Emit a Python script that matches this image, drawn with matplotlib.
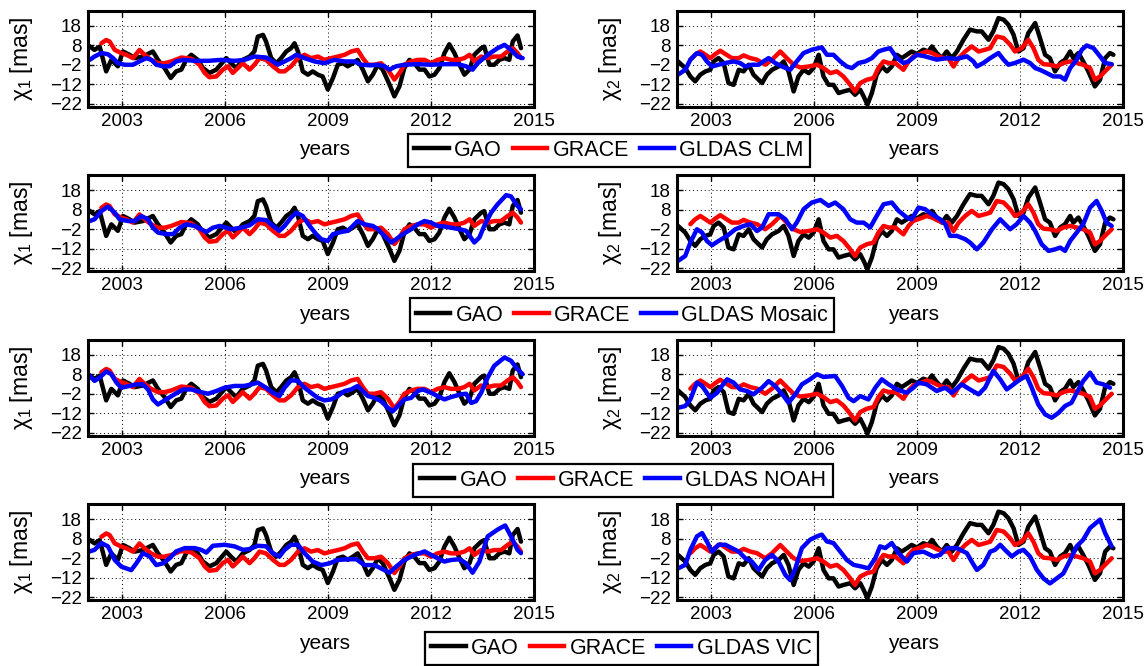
import matplotlib
matplotlib.use('Agg')
import matplotlib.pyplot as plt
from matplotlib.lines import Line2D

plt.rcParams['font.family'] = ['Liberation Sans', 'DejaVu Sans']
plt.rcParams['mathtext.fontset'] = 'custom'
plt.rcParams['mathtext.rm'] = 'Liberation Sans'
plt.rcParams['mathtext.it'] = 'Liberation Sans'
plt.rcParams['mathtext.bf'] = 'Liberation Sans:bold'

# ---------------- data ----------------
xticks = [2003, 2006, 2009, 2012, 2015]
yticks = [-22, -12, -2, 8, 18]
model_names = ['GLDAS CLM', 'GLDAS Mosaic', 'GLDAS NOAH', 'GLDAS VIC']

# chi1 GAO
t_gao1 = [2002.00, 2002.19, 2002.34, 2002.53, 2002.68, 2002.87, 2003.02, 2003.21, 2003.36, 2003.60,
          2003.89, 2004.04, 2004.23, 2004.41, 2004.57, 2004.72, 2004.86, 2005.01, 2005.20, 2005.35,
          2005.54, 2005.74, 2006.03, 2006.17, 2006.32, 2006.51, 2006.71, 2006.85, 2006.95, 2007.10,
          2007.19, 2007.34, 2007.49, 2007.63, 2007.78, 2007.92, 2008.02, 2008.12, 2008.26, 2008.41,
          2008.55, 2008.70, 2008.84, 2008.99, 2009.14, 2009.28, 2009.43, 2009.57, 2009.72, 2009.86,
          2010.01, 2010.16, 2010.30, 2010.45, 2010.59, 2010.79, 2010.93, 2011.08, 2011.22, 2011.37,
          2011.51, 2011.66, 2011.81, 2011.95, 2012.10, 2012.24, 2012.39, 2012.53, 2012.68, 2012.83,
          2012.97, 2013.12, 2013.26, 2013.46, 2013.55, 2013.70, 2013.84, 2013.99, 2014.14, 2014.28,
          2014.38, 2014.52, 2014.62]
gao1 = [8, 5.6, 7.3, -5.4, 0.5, -2.8, 4.8, 3.1, 1.4, 2.2,
        4.8, 0.5, -3.7, -8.8, -5.4, -4.5, 0.5, 3.1, 0.5, -3.7,
        -6.2, -4.5, 1.4, -1.2, -3.7, 0.5, 2.2, 4.8, 12.4, 13.3,
        9.9, 1.4, -1.2, 1.4, 4.8, 6.5, 9.0, 4.8, -5.4, -7.1,
        -5.4, -7.1, -8, -14.7, -8.8, -2, -1.2, -2.8, -1.2, 0.5,
        -4.5, -10.5, -7.1, -2, -4.5, -12.2, -18.2, -13, -3.7, 0.5,
        -1.2, -4.5, -4.5, -8, -7.1, -3.7, 4, 8.5, 4, -2,
        -7.1, -4.5, 3.1, 6.5, 7.3, -2, -2, 0.5, 1.4, 0.5,
        9.9, 13, 6.5]

# chi1 GRACE
t_grace1 = [2002.39, 2002.53, 2002.63, 2002.78, 2002.97, 2003.12, 2003.31, 2003.50, 2003.65, 2003.84,
            2004.04, 2004.23, 2004.43, 2004.72, 2005.01, 2005.25, 2005.40, 2005.54, 2005.74, 2005.93,
            2006.08, 2006.22, 2006.37, 2006.51, 2006.71, 2006.85, 2007.00, 2007.19, 2007.39, 2007.58,
            2007.73, 2007.92, 2008.12, 2008.31, 2008.50, 2008.70, 2008.89, 2009.09, 2009.28, 2009.48,
            2009.67, 2009.86, 2010.01, 2010.16, 2010.35, 2010.54, 2010.74, 2010.93, 2011.08, 2011.22,
            2011.42, 2011.61, 2011.81, 2012.00, 2012.19, 2012.39, 2012.58, 2012.78, 2012.97, 2013.12,
            2013.26, 2013.46, 2013.65, 2013.84, 2014.04, 2014.23, 2014.38, 2014.52, 2014.62]
grace1 = [9.0, 10.7, 9.9, 5.6, 4, 3.1, 1.4, 5.6, 3.1, 0.5,
          -1.2, -1.2, -0.3, 1.7, 1.1, -2, -6.2, -8.4, -8, -4.5,
          -2.8, -6.2, -3.7, -1.2, -4.5, -2, 1.4, 0.5, -2.8, -5.4,
          -5.4, -2.8, 1.4, 3.1, 1.4, 2.2, 0.5, 1.4, 2.2, 3.1,
          4.8, 5.6, 1.4, -2, -2, -1.2, -4.5, -9.6, -6.2, -2,
          -0.3, 0.5, 0.5, -1.2, 0.5, 1.4, 0.5, 0.5, 1.4, 3.1,
          -0.3, 2.2, 1.4, 2.2, 2.2, 4.8, 6.5, 4, 1.4]

# chi1 GLDAS CLM
t_clm1 = [2002.05, 2002.19, 2002.39, 2002.58, 2002.73, 2002.87, 2003.07, 2003.31, 2003.50, 2003.70,
          2003.85, 2003.99, 2004.19, 2004.38, 2004.57, 2004.77, 2005.11, 2005.50, 2005.88, 2006.27,
          2006.56, 2006.85, 2007.19, 2007.39, 2007.53, 2007.73, 2007.92, 2008.07, 2008.31, 2008.60,
          2008.89, 2009.18, 2009.48, 2009.77, 2009.96, 2010.25, 2010.45, 2010.64, 2010.79, 2010.98,
          2011.22, 2011.61, 2012.00, 2012.39, 2012.78, 2013.02, 2013.21, 2013.36, 2013.65, 2013.94,
          2014.14, 2014.33, 2014.52, 2014.67]
clm1 = [0.5, 2.2, 4, 3.4, 1.4, -1.2, -2, -2, -0.3, 1.4,
        0.5, -2, -2.8, -2.8, -0.3, 0.5, 0, 0, 0.5, 0,
        0.5, 2.2, 1.7, -0.3, -2, -0.3, 1.4, 3.1, 1.4, -0.3,
        -1.2, 0.5, -0.3, -0.3, -2, -2.3, -2, -2.8, -4.5, -2.8,
        -2, -1.7, -2, -1.7, -1.7, -2.8, -4.5, -1.2, 3.1, 6.5,
        8.2, 5.6, 2.2, 1.4]

# chi1 GLDAS Mosaic
t_mos1 = [2002.05, 2002.19, 2002.39, 2002.58, 2002.78, 2002.92, 2003.17, 2003.36, 2003.55, 2003.75,
          2003.89, 2004.04, 2004.28, 2004.48, 2004.67, 2004.86, 2005.11, 2005.30, 2005.45, 2005.64,
          2005.84, 2006.18, 2006.47, 2006.71, 2006.95, 2007.19, 2007.39, 2007.58, 2007.73, 2007.92,
          2008.07, 2008.26, 2008.46, 2008.65, 2008.80, 2008.99, 2009.14, 2009.38, 2009.57, 2009.72,
          2009.86, 2010.06, 2010.30, 2010.45, 2010.64, 2010.84, 2010.98, 2011.18, 2011.42, 2011.61,
          2011.81, 2012.00, 2012.19, 2012.39, 2012.58, 2012.83, 2013.02, 2013.26, 2013.41, 2013.55,
          2013.75, 2013.94, 2014.19, 2014.33, 2014.52, 2014.62]
mos1 = [2.2, 3.1, 7.3, 9.6, 6.5, 3.1, 2.2, 2.2, 4.8, 3.1,
        -1.2, -3.7, -4.5, -4.5, -1.2, 0.5, -0.3, -2, -3.4, -1.2,
        -0.3, -2, -1.2, 0, 3.1, 2.7, -0.3, -2.8, -0.3, 4,
        6.5, 4.8, -0.3, -4.5, -7.1, -8, -4.5, -3.4, -2.8, -0.3,
        2.2, 0.5, -0.3, -2, -5.4, -8.8, -7.1, -4.5, -2, 0.5,
        2.2, 1.4, -0.3, -0.6, -1.2, -2, -2.8, -8.8, -6.2, -0.3,
        6.5, 10.8, 15.5, 14.8, 9.9, 8.2]

# chi1 GLDAS NOAH
t_noah1 = [2002.05, 2002.19, 2002.34, 2002.53, 2002.68, 2002.83, 2002.97, 2003.21, 2003.41, 2003.60,
           2003.75, 2003.89, 2004.04, 2004.28, 2004.52, 2004.77, 2005.01, 2005.25, 2005.50, 2005.74,
           2005.98, 2006.27, 2006.56, 2006.76, 2006.95, 2007.19, 2007.39, 2007.58, 2007.73, 2007.92,
           2008.12, 2008.31, 2008.50, 2008.70, 2008.89, 2009.09, 2009.28, 2009.48, 2009.67, 2009.86,
           2010.01, 2010.16, 2010.35, 2010.54, 2010.74, 2010.88, 2011.08, 2011.22, 2011.42, 2011.61,
           2011.76, 2012.00, 2012.19, 2012.39, 2012.58, 2012.87, 2013.02, 2013.17, 2013.31, 2013.46,
           2013.65, 2013.84, 2014.14, 2014.33, 2014.52, 2014.67]
noah1 = [7.1, 4.6, 6.3, 9.4, 8, 3.7, 1.1, 2, 2.8, 2.8,
         0.2, -4.9, -7.5, -4.9, -2.3, 0.2, 0.2, -1, -2, -0.6,
         1.1, 2, 2, 2.8, 3.7, 1.1, -1.5, -3.2, 1.1, 4.9,
         4.6, 1.1, -1.5, -4.1, -5.4, -4.9, -3.2, -0.6, 0.2, 2,
         -0.6, -3.2, -4.1, -5.8, -9.2, -11, -7.5, -4.9, -4.1, -0.6,
         0.2, -1.5, -3.2, -4.9, -3.7, -2.3, -2, -6.7, -5.8, -1.5,
         6.3, 12.3, 16.6, 14.9, 10.6, 8]

# chi1 GLDAS VIC
t_vic1 = [2002.05, 2002.19, 2002.39, 2002.58, 2002.78, 2002.97, 2003.26, 2003.41, 2003.60, 2003.80,
          2003.99, 2004.19, 2004.38, 2004.57, 2004.82, 2005.11, 2005.30, 2005.45, 2005.64, 2005.98,
          2006.27, 2006.52, 2006.71, 2006.95, 2007.19, 2007.39, 2007.58, 2007.73, 2007.92, 2008.12,
          2008.31, 2008.55, 2008.80, 2009.04, 2009.28, 2009.57, 2009.82, 2010.06, 2010.35, 2010.54,
          2010.79, 2010.98, 2011.22, 2011.52, 2011.81, 2012.00, 2012.19, 2012.39, 2012.58, 2012.83,
          2013.02, 2013.21, 2013.41, 2013.65, 2013.94, 2014.16, 2014.33, 2014.52, 2014.62]
vic1 = [1.5, 2.3, 5.8, 4.1, -2.9, -6.3, -8.1, -4.6, 0.6, -1.1,
        -5.5, -4.6, -2, 1.5, 3.2, 3.2, 2.3, 0.9, 4.4, 4.9,
        4.1, 2.3, 2.7, 4.4, 4.1, 0.6, -1.1, 2.3, 4.9, 4.9,
        0.6, -3.7, -5.5, -4.6, -2.9, -2.5, -2.5, -5.5, -5.5, -7.2,
        -9.4, -6.3, -2.9, -0.3, 1.5, -0.3, -2, -3.7, -2.9, -2.5,
        -4.6, -9.4, -3.7, 9.2, 12.7, 14.8, 9.2, 2.3, 0.6]

# chi2 GAO
t_gao2 = [2002.03, 2002.24, 2002.39, 2002.53, 2002.68, 2002.83, 2002.97, 2003.07, 2003.21, 2003.36,
          2003.50, 2003.65, 2003.80, 2003.94, 2004.09, 2004.23, 2004.48, 2004.62, 2004.77, 2004.96,
          2005.11, 2005.25, 2005.40, 2005.54, 2005.69, 2005.84, 2005.98, 2006.13, 2006.27, 2006.42,
          2006.56, 2006.71, 2006.85, 2007.05, 2007.19, 2007.34, 2007.44, 2007.55, 2007.68, 2007.82,
          2007.97, 2008.12, 2008.26, 2008.41, 2008.55, 2008.70, 2008.84, 2008.99, 2009.18, 2009.33,
          2009.43, 2009.57, 2009.72, 2009.86, 2010.01, 2010.16, 2010.35, 2010.54, 2010.74, 2010.88,
          2011.08, 2011.22, 2011.37, 2011.52, 2011.66, 2011.81, 2011.95, 2012.10, 2012.24, 2012.44,
          2012.58, 2012.73, 2012.87, 2013.02, 2013.17, 2013.31, 2013.46, 2013.55, 2013.70, 2013.84,
          2013.99, 2014.18, 2014.33, 2014.48, 2014.62, 2014.72]
gao2 = [-0.3, -3.7, -8, -10.5, -7.1, -5.4, -4.6, -0.3, 1.4, -1.1,
        -11.4, -12.3, -4.6, -5.4, -2, -7.1, -11.4, -7.1, -4.6, -2.9,
        -0.3, -5.4, -15.7, -8, -4.6, -6.3, -3.7, 3.1, -8, -12.3,
        -12.3, -16.5, -15.7, -14.8, -17.4, -14.8, -18.2, -22.5, -16.5, -7.1,
        -2.9, -5.4, -2.9, 3.1, 1.4, 3.1, 4.8, 3.5, 5.7, 4.8,
        7.4, 4, 1.4, 4.8, 1.4, 4.8, 10.8, 16, 15.1, 15.1,
        10.8, 15.1, 21.9, 21.1, 18.5, 13.4, 4.8, 6.5, 14.2, 19.4,
        11.7, 3.1, 1.4, -5.4, -1.1, 0.6, 4.8, 1.4, 4, -0.3,
        -5.4, -13.1, -9.7, 1.4, 4, 3.1]

# chi2 GRACE
t_grace2 = [2002.39, 2002.53, 2002.68, 2002.83, 2002.97, 2003.12, 2003.26, 2003.41, 2003.60, 2003.80,
            2003.94, 2004.14, 2004.33, 2004.57, 2004.77, 2005.01, 2005.20, 2005.40, 2005.59, 2005.84,
            2006.08, 2006.27, 2006.47, 2006.66, 2006.85, 2007.05, 2007.19, 2007.34, 2007.53, 2007.73,
            2007.87, 2008.02, 2008.17, 2008.36, 2008.60, 2008.75, 2008.89, 2009.09, 2009.28, 2009.43,
            2009.62, 2009.77, 2009.91, 2010.06, 2010.21, 2010.40, 2010.59, 2010.79, 2010.98, 2011.13,
            2011.32, 2011.52, 2011.71, 2011.85, 2012.05, 2012.24, 2012.39, 2012.53, 2012.68, 2012.87,
            2013.07, 2013.26, 2013.46, 2013.65, 2013.84, 2014.04, 2014.18, 2014.33, 2014.52, 2014.67]
grace2 = [0.6, 3.1, 4.8, 3.1, 1.4, 3.5, 5.2, 3.5, 1.4, 1.4,
          2.8, 1.4, 0.6, -2, 0.6, 4.8, 1.4, -2, -3.4, -2.9,
          -2, -3.7, -6.3, -5.4, -8, -12.3, -15.7, -11.4, -9.7, -8.8,
          -3.7, -0.3, -1.1, -1.1, -4.6, -0.3, 2.3, 3.5, 4.8, 4,
          2.3, 1.4, 1.4, -2.9, 1.4, 4.8, 7.4, 4.8, 5.7, 6.5,
          12.5, 11.7, 8.3, 4.8, 6.5, 10.8, 6.5, 0.6, -1.7, -2,
          -2.9, -1.1, -0.3, -1.1, -2, -3.7, -9.7, -8, -4.6, -2]

# chi2 GLDAS CLM
t_clm2 = [2002.03, 2002.24, 2002.39, 2002.58, 2002.73, 2002.87, 2003.02, 2003.21, 2003.41, 2003.65,
          2003.84, 2003.99, 2004.18, 2004.38, 2004.52, 2004.67, 2004.86, 2005.06, 2005.30, 2005.49,
          2005.69, 2005.93, 2006.22, 2006.37, 2006.56, 2006.76, 2006.95, 2007.10, 2007.29, 2007.49,
          2007.68, 2007.87, 2008.02, 2008.21, 2008.41, 2008.60, 2008.75, 2008.99, 2009.23, 2009.57,
          2009.86, 2010.16, 2010.45, 2010.64, 2010.74, 2010.93, 2011.13, 2011.37, 2011.52, 2011.66,
          2011.85, 2012.10, 2012.29, 2012.44, 2012.58, 2012.78, 2012.97, 2013.17, 2013.31, 2013.46,
          2013.65, 2013.80, 2013.94, 2014.14, 2014.33, 2014.48, 2014.67]
clm2 = [-7.1, -4.6, 0.6, 4, 3.1, -0.3, -2.9, -2, -1.1, -0.3,
        -1.1, -2.9, -2, -2, -0.3, 1.4, -1.1, -2.9, -4.6, -0.3,
        4, 5.7, 6.9, 3.1, 3.1, -0.3, -2.9, -3.7, -1.1, -0.3,
        1.4, 4.8, 5.7, 6.5, 1.4, -1.1, -0.3, 3.1, 2.3, 0.6,
        1.4, 1, 2.3, -0.3, -2.9, -1.1, 1.4, 4, 0.6, -2,
        -1.1, 0.6, -1.1, -3.7, -4.6, -6.3, -8, -8, -9.7, -3.7,
        0.6, 5.7, 7.9, 6.5, 2.3, -1.1, -1.7]

# chi2 GLDAS Mosaic
t_mos2 = [2002.03, 2002.24, 2002.39, 2002.58, 2002.73, 2002.87, 2003.02, 2003.21, 2003.46, 2003.70,
          2003.94, 2004.14, 2004.33, 2004.48, 2004.67, 2004.96, 2005.16, 2005.35, 2005.49, 2005.69,
          2005.93, 2006.18, 2006.42, 2006.61, 2006.85, 2007.05, 2007.24, 2007.44, 2007.63, 2007.82,
          2008.02, 2008.26, 2008.46, 2008.70, 2008.84, 2009.04, 2009.23, 2009.43, 2009.67, 2009.82,
          2009.96, 2010.16, 2010.40, 2010.54, 2010.74, 2010.93, 2011.18, 2011.42, 2011.56, 2011.71,
          2011.90, 2012.10, 2012.29, 2012.44, 2012.63, 2012.83, 2013.02, 2013.17, 2013.31, 2013.46,
          2013.65, 2013.84, 2014.04, 2014.23, 2014.38, 2014.52, 2014.67]
mos2 = [-18.2, -15.7, -8.8, -2, -3.7, -8, -10.2, -8, -5.4, -2,
        -0.3, 0.6, -2.9, -1.1, 5.7, 5.7, 3.1, -2, 1.4, 8.3,
        11.7, 13, 10, 11.7, 8.3, 3.1, 1.4, 1.4, -1.1, 4.8,
        10.8, 11.7, 7.4, 4, 3.1, 9.1, 8.3, 5.7, 3.1, 0.6,
        -5.4, -5.4, -7.1, -8.8, -12.3, -8.8, -2, 3.1, 0.6, -2,
        0.6, 4.8, 1.4, -2.9, -9.7, -13.1, -12.3, -11.4, -13.1, -8,
        -3.7, 0.6, 9.1, 12.5, 7.4, 1.4, -0.3]

# chi2 GLDAS NOAH
t_noah2 = [2002.03, 2002.24, 2002.39, 2002.58, 2002.73, 2002.97, 2003.17, 2003.31, 2003.46, 2003.65,
           2003.84, 2004.04, 2004.23, 2004.48, 2004.67, 2004.86, 2005.11, 2005.25, 2005.45, 2005.64,
           2005.88, 2006.08, 2006.27, 2006.61, 2006.81, 2007.00, 2007.15, 2007.34, 2007.58, 2007.78,
           2007.97, 2008.17, 2008.41, 2008.70, 2008.89, 2009.04, 2009.28, 2009.57, 2009.82, 2010.01,
           2010.30, 2010.54, 2010.79, 2010.98, 2011.22, 2011.42, 2011.61, 2011.81, 2012.00, 2012.19,
           2012.34, 2012.53, 2012.73, 2012.92, 2013.12, 2013.31, 2013.50, 2013.65, 2013.84, 2014.04,
           2014.23, 2014.43, 2014.62]
noah2 = [-9.2, -8.3, -4.9, 3.7, 2, -4.1, -1.5, 2, 5.4, 3.7,
         0.2, -0.6, -2.3, 1.1, 4.5, 2, -3.2, -6.6, -2.3, 2.8,
         5.4, 8, 6.6, 7.1, 2, -4.1, -5.8, -3.2, -4.9, 1.1,
         5.4, 2.8, 0.2, -1.5, 1.1, 3.7, 2.8, -0.6, 1.1, -1.5,
         2.8, 0.2, -2.3, 1.1, 9.7, 5.4, 0.2, 2.8, 5.4, 7.1,
         1.1, -7.5, -12.6, -14.3, -11.8, -8.3, -6.6, -1.5, 4.5, 8.8,
         3.7, 2.8, 1.1]

# chi2 GLDAS VIC
t_vic2 = [2002.03, 2002.24, 2002.39, 2002.58, 2002.73, 2002.87, 2003.02, 2003.21, 2003.41, 2003.60,
          2003.80, 2003.99, 2004.18, 2004.38, 2004.57, 2004.77, 2004.96, 2005.16, 2005.30, 2005.45,
          2005.64, 2005.88, 2006.08, 2006.22, 2006.37, 2006.56, 2006.76, 2006.95, 2007.15, 2007.39,
          2007.58, 2007.78, 2007.92, 2008.07, 2008.26, 2008.46, 2008.70, 2008.89, 2009.18, 2009.48,
          2009.67, 2009.86, 2010.16, 2010.45, 2010.59, 2010.74, 2010.93, 2011.13, 2011.27, 2011.42,
          2011.56, 2011.76, 2011.95, 2012.10, 2012.29, 2012.49, 2012.68, 2012.87, 2013.07, 2013.26,
          2013.46, 2013.65, 2013.84, 2014.04, 2014.33, 2014.48, 2014.67]
vic2 = [-7.2, -5.4, 2.3, 9.2, 10.9, 6.6, 1.4, 4.9, 4.9, 3.2,
        1.4, -2, -3.7, -8, -2.9, -0.3, -3.7, -10.6, -13.2, -7.2,
        3.2, 7.5, 9.2, 10.1, 6.6, 5.8, 1.4, -2.9, -5.4, -6.3,
        -7.2, -2, 4.1, 3.2, 5.8, 0.6, -3.7, 0.6, 1.4, -1.1,
        -0.3, 3.2, 3.2, 0.6, -3.7, -8, -5.4, 1.4, 2.3, 4.9,
        2.3, -1.1, 1.4, 2.3, -1.1, -8, -12.3, -14.9, -12.3, -9.8,
        -2.9, 4.1, 7.5, 13.5, 17.8, 10.9, 4.1]

# ---------------- figure ----------------
W, H = 1145, 666
fig = plt.figure(figsize=(W / 100, H / 100), dpi=100)

C_GAO, C_GRACE, C_GLDAS = 'black', (1, 0, 0), (0, 0, 1)
LW = 3.2
LINE_KW = dict(lw=LW, solid_joinstyle='round', solid_capstyle='round')

models1 = [(t_clm1, clm1), (t_mos1, mos1), (t_noah1, noah1), (t_vic1, vic1)]
models2 = [(t_clm2, clm2), (t_mos2, mos2), (t_noah2, noah2), (t_vic2, vic2)]
legend_centers = [(609, 150.5), (622, 315), (623, 480.5), (621.5, 648.5)]


def rect(x0, top, w, h):
    return [x0 / W, 1 - (top + h) / H, w / W, h / H]


def style(ax, ylab):
    ax.set_xlim(2002, 2015)
    ax.set_ylim(-23.4, 25.8)
    ax.set_xticks(xticks)
    ax.set_yticks(yticks)
    ax.grid(True, color='black', linestyle=(0, (1, 3)), linewidth=0.7)
    ax.set_axisbelow(True)
    ax.tick_params(direction='in', length=4, width=1.0, top=True, right=True,
                   labelsize=13.5, pad=4.5)
    for s in ax.spines.values():
        s.set_linewidth(2.2)
    ax.set_xlabel('years', fontsize=15)
    ax.xaxis.set_label_coords(0.53, -0.45)
    ax.xaxis.label.set_va('center')
    ax.set_ylabel(ylab, fontsize=16.5)
    ax.yaxis.set_label_coords(-0.148, 0.5)
    ax.yaxis.label.set_va('center')


for i in range(4):
    top = 10.5 + 164.5 * i
    axl = fig.add_axes(rect(88, top, 446, 96))
    axr = fig.add_axes(rect(677, top, 446, 96))

    axl.plot(t_gao1, gao1, color=C_GAO, **LINE_KW)
    axl.plot(t_grace1, grace1, color=C_GRACE, **LINE_KW)
    axl.plot(models1[i][0], models1[i][1], color=C_GLDAS, **LINE_KW)
    style(axl, r'$\chi_1$ [mas]')

    axr.plot(t_gao2, gao2, color=C_GAO, **LINE_KW)
    axr.plot(t_grace2, grace2, color=C_GRACE, **LINE_KW)
    axr.plot(models2[i][0], models2[i][1], color=C_GLDAS, **LINE_KW)
    style(axr, r'$\chi_2$ [mas]')

    handles = [Line2D([], [], color=C_GAO, lw=LW),
               Line2D([], [], color=C_GRACE, lw=LW),
               Line2D([], [], color=C_GLDAS, lw=LW)]
    cx, cy = legend_centers[i]
    leg = fig.legend(handles, ['GAO', 'GRACE', model_names[i]], loc='center',
                     bbox_to_anchor=(cx / W, 1 - cy / H), ncol=3, fontsize=15.5,
                     frameon=True, fancybox=False, edgecolor='black', framealpha=1,
                     handlelength=1.6, handletextpad=0.25, columnspacing=0.5,
                     borderpad=0.3, borderaxespad=0)
    leg.get_frame().set_linewidth(1.6)

fig.savefig('out.png', dpi=100)
